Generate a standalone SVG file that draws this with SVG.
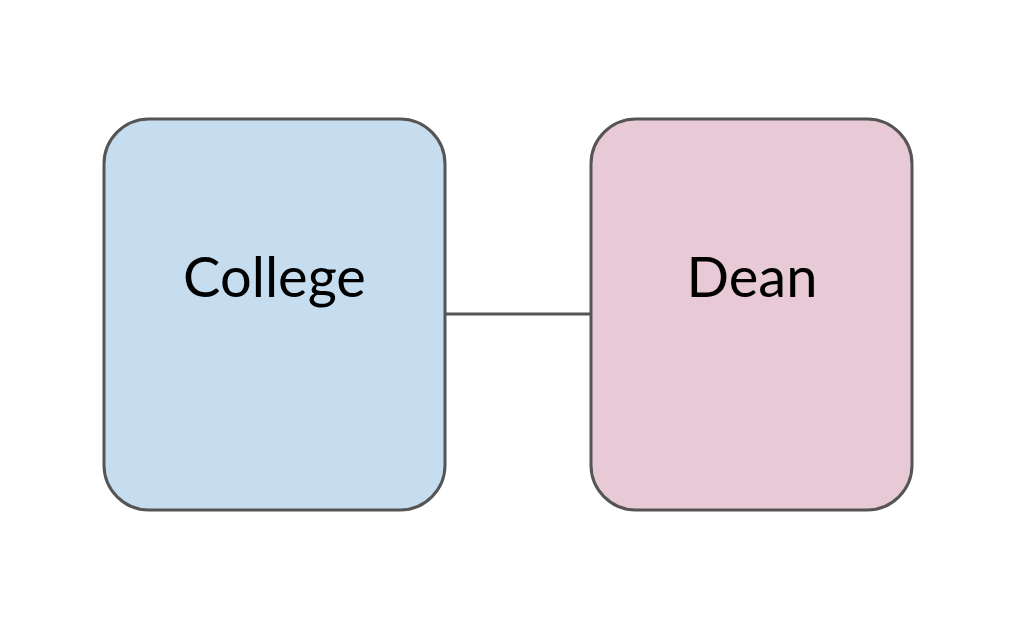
<svg xmlns="http://www.w3.org/2000/svg" width="1018" height="636" viewBox="0 0 1018 636">
<style>
.box{stroke:#555555;stroke-width:3}
.lbl{font-family:Lato,"Liberation Sans",sans-serif;font-size:56px;fill:#000;text-anchor:middle}
.edge{stroke:#555555;stroke-width:3;fill:none}
</style>
<rect width="1018" height="636" fill="#ffffff"/>
<g id="connectors">
<line class="edge" x1="445" y1="314" x2="591" y2="314"/>
</g>
<g id="college">
<rect class="box" x="104" y="119" width="341" height="391" rx="45" ry="45" fill="#C6DDF0"/>
<text class="lbl" x="274.5" y="297">College</text>
</g>
<g id="dean">
<rect class="box" x="591" y="119" width="321" height="391" rx="45" ry="45" fill="#E8CAD6"/>
<text class="lbl" x="752" y="297">Dean</text>
</g>
</svg>
